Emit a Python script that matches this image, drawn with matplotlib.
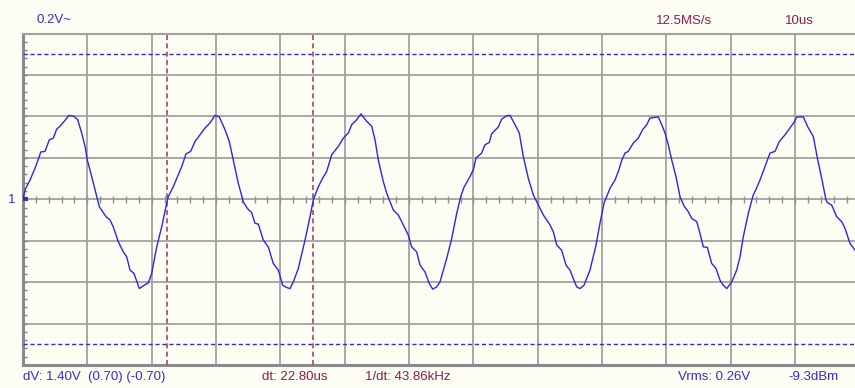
import numpy as np
import matplotlib
matplotlib.use("Agg")
import matplotlib.pyplot as plt

# trace: time in us, voltage in V (0.2 V/div, 10 us/div)
t_us = [0.0, 0.31, 1.09, 1.87, 2.53, 2.75, 3.42, 4.09, 4.71, 5.24, 5.75, 6.53, 7.15, 7.93,
        8.50, 9.12, 9.64, 9.99, 10.68, 11.45, 11.86, 12.90, 13.52, 14.03, 14.81, 15.59, 16.12,
        16.63, 17.25, 18.08, 18.81, 19.47, 20.00, 20.78, 21.56, 22.33, 22.58, 23.36, 24.14,
        24.67, 25.33, 26.06, 26.73, 27.51, 28.29, 29.06, 29.84, 30.51, 31.39, 32.06, 32.68,
        33.46, 34.24, 34.86, 35.54, 36.06, 36.57, 37.35, 38.12, 38.90, 39.68, 40.36, 40.98,
        41.50, 42.01, 42.79, 43.83, 44.61, 45.12, 45.90, 46.67, 47.20, 47.98, 49.00, 49.78,
        50.56, 51.09, 51.86, 52.53, 53.42, 54.20, 54.71, 55.22, 56.00, 56.53, 57.55, 58.33,
        59.11, 59.88, 60.41, 61.19, 61.70, 62.48, 63.15, 63.68, 64.30, 64.81, 65.85, 66.63,
        67.41, 68.03, 68.54, 69.47, 69.99, 70.41, 71.29, 71.80, 72.47, 72.84, 73.87, 74.40,
        75.18, 75.69, 76.47, 77.13, 77.76, 78.53, 79.31, 80.09, 80.87, 81.91, 82.42, 82.95,
        83.72, 84.39, 85.01, 85.53, 86.06, 86.57, 87.19, 88.12, 89.06, 89.67, 90.30, 90.72,
        91.23, 92.01, 92.52, 93.05, 93.56, 94.07, 94.85, 95.63, 96.31, 96.94, 97.45, 98.74,
        99.27, 99.78, 100.29, 100.82, 101.49, 102.11, 102.73, 103.40, 103.93, 104.71, 105.22,
        105.73, 106.35, 107.04, 107.71, 108.33, 108.84, 109.37, 110.15, 110.92, 111.44,
        111.95, 112.73, 113.50, 113.92, 114.55, 115.33, 116.10, 116.88, 117.55, 118.43,
        119.21, 119.83, 120.25, 121.28, 122.06, 122.83, 123.46, 124.13, 124.80, 125.00,
        125.69, 126.46, 127.24, 127.75, 128.53, 129.31]
volts = [0.000, 0.045, 0.093, 0.150, 0.206, 0.228, 0.231, 0.287, 0.295, 0.339, 0.352, 0.381,
         0.405, 0.400, 0.384, 0.320, 0.255, 0.190, 0.109, 0.013, -0.036, -0.084, -0.100,
         -0.133, -0.205, -0.254, -0.278, -0.342, -0.358, -0.431, -0.415, -0.404, -0.358,
         -0.230, -0.133, -0.019, 0.013, 0.061, 0.118, 0.158, 0.219, 0.231, 0.279, 0.311,
         0.344, 0.368, 0.405, 0.397, 0.336, 0.279, 0.190, 0.077, -0.012, -0.044, -0.065,
         -0.116, -0.120, -0.197, -0.230, -0.310, -0.342, -0.415, -0.426, -0.431, -0.399,
         -0.334, -0.197, -0.084, -0.003, 0.061, 0.107, 0.134, 0.215, 0.255, 0.295, 0.320,
         0.360, 0.384, 0.412, 0.376, 0.352, 0.287, 0.190, 0.085, 0.029, -0.052, -0.076,
         -0.124, -0.173, -0.230, -0.254, -0.318, -0.351, -0.407, -0.434, -0.423, -0.399,
         -0.286, -0.189, -0.068, 0.013, 0.058, 0.109, 0.142, 0.199, 0.223, 0.263, 0.274,
         0.316, 0.349, 0.387, 0.403, 0.405, 0.360, 0.320, 0.206, 0.102, 0.021, -0.028,
         -0.076, -0.124, -0.157, -0.221, -0.246, -0.318, -0.342, -0.383, -0.423, -0.431,
         -0.415, -0.342, -0.221, -0.116, -0.019, 0.013, 0.053, 0.093, 0.134, 0.187, 0.223,
         0.231, 0.271, 0.295, 0.336, 0.360, 0.392, 0.397, 0.360, 0.320, 0.263, 0.190, 0.109,
         0.013, -0.032, -0.060, -0.092, -0.108, -0.165, -0.230, -0.232, -0.310, -0.334,
         -0.391, -0.415, -0.431, -0.399, -0.342, -0.278, -0.181, -0.068, 0.021, 0.048,
         0.093, 0.158, 0.223, 0.231, 0.279, 0.311, 0.344, 0.371, 0.397, 0.397, 0.344,
         0.303, 0.199, 0.102, -0.003, -0.016, -0.028, -0.084, -0.108, -0.140, -0.213, -0.246]

cursor_t = [22.33, 45.13]      # time cursors, us
cursor_v = [0.70, -0.70]       # voltage cursors, V
x_max = 129.31
y_lim = 0.8

top_left = "0.2V~"
top_right = ["12.5MS/s", "10us"]
bottom_blue = ["dV: 1.40V  (0.70) (-0.70)", "Vrms: 0.26V", "-9.3dBm"]
bottom_red = ["dt: 22.80us", "1/dt: 43.86kHz"]

BG = "#fdfdf3"
GRID = "#a0a0a0"
BLUE = "#2f2fd0"
TRACE = "#2828e6"
RED = "#8b1e4b"
CURSOR = "#a3456e"

W, H = 855, 388
fig = plt.figure(figsize=(W / 100, H / 100), dpi=100, facecolor=BG)
ax = fig.add_axes([23 / W, 23 / H, 832 / W, 331.5 / H])
ax.set_facecolor(BG)
ax.set_xlim(0, x_max)
ax.set_ylim(-y_lim, y_lim)

ax.set_xticks(np.arange(10, x_max, 10))
ax.set_yticks(np.arange(-0.6, 0.61, 0.2))
ax.tick_params(length=0, labelbottom=False, labelleft=False)
ax.grid(True, color=GRID, lw=1.3, zorder=1)

for side in ["left", "bottom"]:
    ax.spines[side].set_color("#8a8a8a")
    ax.spines[side].set_linewidth(2.2)
ax.spines["top"].set_color(GRID)
ax.spines["top"].set_linewidth(1.5)
ax.spines["right"].set_visible(False)

# small division marks on the centre line and left border
minor_x = np.arange(2, x_max, 2)
ax.vlines(minor_x, -0.016, 0.016, color="#909090", lw=1.0, zorder=2)
minor_y = np.arange(-0.76, 0.77, 0.04)
ax.hlines(minor_y, 0, 0.65, color="#808080", lw=1.0, zorder=2)

# cursors
for v in cursor_v:
    ax.axhline(v, color=BLUE, lw=1.0, ls=(0, (3, 2)), zorder=3)
for t in cursor_t:
    ax.axvline(t, color=CURSOR, lw=1.2, ls=(0, (3, 2)), zorder=3)

ax.plot(t_us, volts, color=TRACE, lw=1.0, zorder=4)
ax.plot([0, 0.8], [0, 0], color=BLUE, lw=3, solid_capstyle="butt", zorder=5)

font = dict(family="Liberation Sans", fontsize=9.5, va="center")


def put(x, y, s, c, ha="left"):
    fig.text(x / W, 1 - y / H, s, color=c, ha=ha, **font)


put(36, 20, top_left, BLUE)
put(656, 21, top_right[0], RED)
put(785, 21, top_right[1], RED)
put(23, 377, bottom_blue[0], BLUE)
put(262, 377, bottom_red[0], RED)
put(365, 377, bottom_red[1], RED)
put(678, 377, bottom_blue[1], BLUE)
put(788, 377, bottom_blue[2], BLUE)
put(12, 200, "1", BLUE, ha="center")

fig.savefig("out.png", dpi=100, facecolor=BG)
